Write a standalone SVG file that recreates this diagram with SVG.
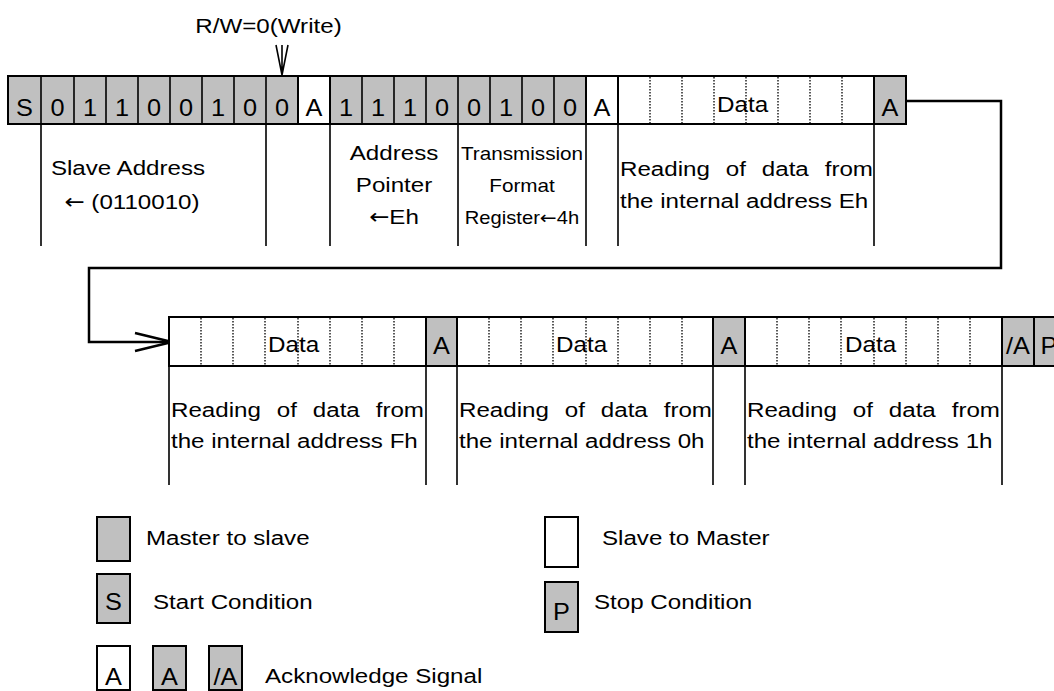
<svg xmlns="http://www.w3.org/2000/svg" width="1054" height="691" viewBox="0 0 1054 691">
<style>
text{font-family:"Liberation Sans",Arial,Helvetica,sans-serif;fill:#000}
.t{font-size:21px}
.s{font-size:18px}
.c{font-size:23px;text-anchor:middle}
.d{font-size:22px}
.m{text-anchor:middle}
.ar{font-family:"DejaVu Sans",sans-serif}
.g{fill:#c0c0c0;stroke:#000;stroke-width:2}
.w{fill:#fff;stroke:#000;stroke-width:2}
.v{stroke:#000;stroke-width:1.6;fill:none}
.dot{stroke:#000;stroke-width:1.3;stroke-dasharray:1.5 1.5;fill:none}
.con{stroke:#000;stroke-width:2.5;fill:none}
</style>
<rect width="1054" height="691" fill="#fff"/>

<g id="rw-label">
<text class="t m" transform="translate(268.5,33) scale(1.15,1)">R/W=0(Write)</text>
<path class="v" d="M282,45 V76 M276,45 L282,75 M288,45 L282,75" stroke-width="1.4"/>
</g>

<g id="row1">
<rect class="g" x="8" y="76" width="290" height="48"/>
<rect class="w" x="298" y="76" width="32" height="48"/>
<rect class="g" x="330" y="76" width="256" height="48"/>
<rect class="w" x="586" y="76" width="32" height="48"/>
<rect class="w" x="618" y="76" width="256" height="48"/>
<rect class="g" x="874" y="76" width="32" height="48"/>
<path class="v" stroke-width="2" d="M41,76V124 M74,76V124 M106,76V124 M138,76V124 M170,76V124 M202,76V124 M234,76V124 M266,76V124 M362,76V124 M394,76V124 M426,76V124 M458,76V124 M490,76V124 M522,76V124 M554,76V124"/>
<path class="dot" d="M650,77V123 M682,77V123 M714,77V123 M746,77V123 M778,77V123 M810,77V123 M842,77V123"/>
<text class="c" transform="translate(24.5,116) scale(1.1,1)">S</text>
<text class="c" transform="translate(57.5,116) scale(1.1,1)">0</text>
<text class="c" transform="translate(90,116) scale(1.1,1)">1</text>
<text class="c" transform="translate(122,116) scale(1.1,1)">1</text>
<text class="c" transform="translate(154,116) scale(1.1,1)">0</text>
<text class="c" transform="translate(186,116) scale(1.1,1)">0</text>
<text class="c" transform="translate(218,116) scale(1.1,1)">1</text>
<text class="c" transform="translate(250,116) scale(1.1,1)">0</text>
<text class="c" transform="translate(282,116) scale(1.1,1)">0</text>
<text class="c" transform="translate(314,116) scale(1.1,1)">A</text>
<text class="c" transform="translate(346,116) scale(1.1,1)">1</text>
<text class="c" transform="translate(378,116) scale(1.1,1)">1</text>
<text class="c" transform="translate(410,116) scale(1.1,1)">1</text>
<text class="c" transform="translate(442,116) scale(1.1,1)">0</text>
<text class="c" transform="translate(474,116) scale(1.1,1)">0</text>
<text class="c" transform="translate(506,116) scale(1.1,1)">1</text>
<text class="c" transform="translate(538,116) scale(1.1,1)">0</text>
<text class="c" transform="translate(570,116) scale(1.1,1)">0</text>
<text class="c" transform="translate(602,116) scale(1.1,1)">A</text>
<text class="d" transform="translate(717,112) scale(1.1,1)">Data</text>
<text class="c" transform="translate(890,116) scale(1.1,1)">A</text>
<path class="v" d="M41,124V246 M266,124V246 M330,124V246 M458,124V246 M586,124V246 M618,124V246 M874,124V246"/>
</g>

<g id="slave-address">
<text class="t m" transform="translate(128,175) scale(1.15,1)">Slave Address</text>
<text class="t m" transform="translate(132,209) scale(1.15,1)"><tspan class="ar">←</tspan> (0110010)</text>
</g>
<g id="address-pointer">
<text class="t m" transform="translate(394,160) scale(1.15,1)">Address</text>
<text class="t m" transform="translate(394,192) scale(1.15,1)">Pointer</text>
<text class="t m" transform="translate(394,224) scale(1.15,1)"><tspan class="ar">←</tspan>Eh</text>
</g>
<g id="transmission-format">
<text class="s m" transform="translate(522,160) scale(1.15,1)">Transmission</text>
<text class="s m" transform="translate(522,192) scale(1.15,1)">Format</text>
<text class="s m" transform="translate(522,224) scale(1.12,1)">Register<tspan class="ar">←</tspan>4h</text>
</g>
<g id="read-eh">
<text class="t" word-spacing="8" transform="translate(620,176) scale(1.15,1)">Reading of data from</text>
<text class="t" transform="translate(620,208) scale(1.15,1)">the internal address Eh</text>
</g>

<g id="connectors">
<path class="con" d="M906,101 H1001 V268 H89 V342 H171"/>
<path class="con" d="M135,333 L172,342 L135,351"/>
</g>

<g id="row2">
<rect class="w" x="169" y="317" width="257" height="49"/>
<rect class="g" x="426" y="317" width="31" height="49"/>
<rect class="w" x="457" y="317" width="256" height="49"/>
<rect class="g" x="713" y="317" width="32" height="49"/>
<rect class="w" x="745" y="317" width="257" height="49"/>
<rect class="g" x="1002" y="317" width="32" height="49"/>
<rect class="g" x="1034" y="317" width="32" height="49"/>
<path class="dot" d="M201,318V365 M233,318V365 M265,318V365 M298,318V365 M330,318V365 M362,318V365 M394,318V365 M489,318V365 M521,318V365 M553,318V365 M586,318V365 M618,318V365 M650,318V365 M682,318V365 M777,318V365 M809,318V365 M841,318V365 M874,318V365 M906,318V365 M938,318V365 M970,318V365"/>
<text class="d" transform="translate(268,352) scale(1.1,1)">Data</text>
<text class="c" transform="translate(441.5,354) scale(1.1,1)">A</text>
<text class="d" transform="translate(556,352) scale(1.1,1)">Data</text>
<text class="c" transform="translate(729,354) scale(1.1,1)">A</text>
<text class="d" transform="translate(845,352) scale(1.1,1)">Data</text>
<text class="c" transform="translate(1018,354) scale(1.1,1)">/A</text>
<text class="c" transform="translate(1049,354) scale(1.1,1)">P</text>
<path class="v" d="M169,366V485 M426,366V485 M457,366V485 M713,366V485 M745,366V485 M1002,366V485"/>
</g>

<g id="read-fh">
<text class="t" word-spacing="8" transform="translate(171,417) scale(1.15,1)">Reading of data from</text>
<text class="t" transform="translate(171,448) scale(1.15,1)">the internal address Fh</text>
</g>
<g id="read-0h">
<text class="t" word-spacing="8" transform="translate(459,417) scale(1.15,1)">Reading of data from</text>
<text class="t" transform="translate(459,448) scale(1.15,1)">the internal address 0h</text>
</g>
<g id="read-1h">
<text class="t" word-spacing="8" transform="translate(747,417) scale(1.15,1)">Reading of data from</text>
<text class="t" transform="translate(747,448) scale(1.15,1)">the internal address 1h</text>
</g>

<g id="legend-master">
<rect class="g" x="97" y="517" width="33" height="44"/>
<text class="t" transform="translate(146,545) scale(1.15,1)">Master to slave</text>
</g>
<g id="legend-slave">
<rect class="w" x="545" y="517" width="33" height="50"/>
<text class="t" transform="translate(602,545) scale(1.15,1)">Slave to Master</text>
</g>
<g id="legend-start">
<rect class="g" x="97" y="574" width="33" height="49"/>
<text class="c" transform="translate(113.5,610) scale(1.1,1)">S</text>
<text class="t" transform="translate(153,609) scale(1.15,1)">Start Condition</text>
</g>
<g id="legend-stop">
<rect class="g" x="545" y="582" width="33" height="50"/>
<text class="c" transform="translate(561.5,620) scale(1.1,1)">P</text>
<text class="t" transform="translate(594,609) scale(1.15,1)">Stop Condition</text>
</g>
<g id="legend-ack">
<rect class="w" x="97" y="646" width="33" height="44"/>
<rect class="g" x="153" y="646" width="33" height="44"/>
<rect class="g" x="209" y="646" width="33" height="44"/>
<text class="c" transform="translate(113.5,685) scale(1.1,1)">A</text>
<text class="c" transform="translate(169.5,685) scale(1.1,1)">A</text>
<text class="c" transform="translate(225.5,685) scale(1.1,1)">/A</text>
<text class="t" transform="translate(265,683) scale(1.15,1)">Acknowledge Signal</text>
</g>
</svg>
